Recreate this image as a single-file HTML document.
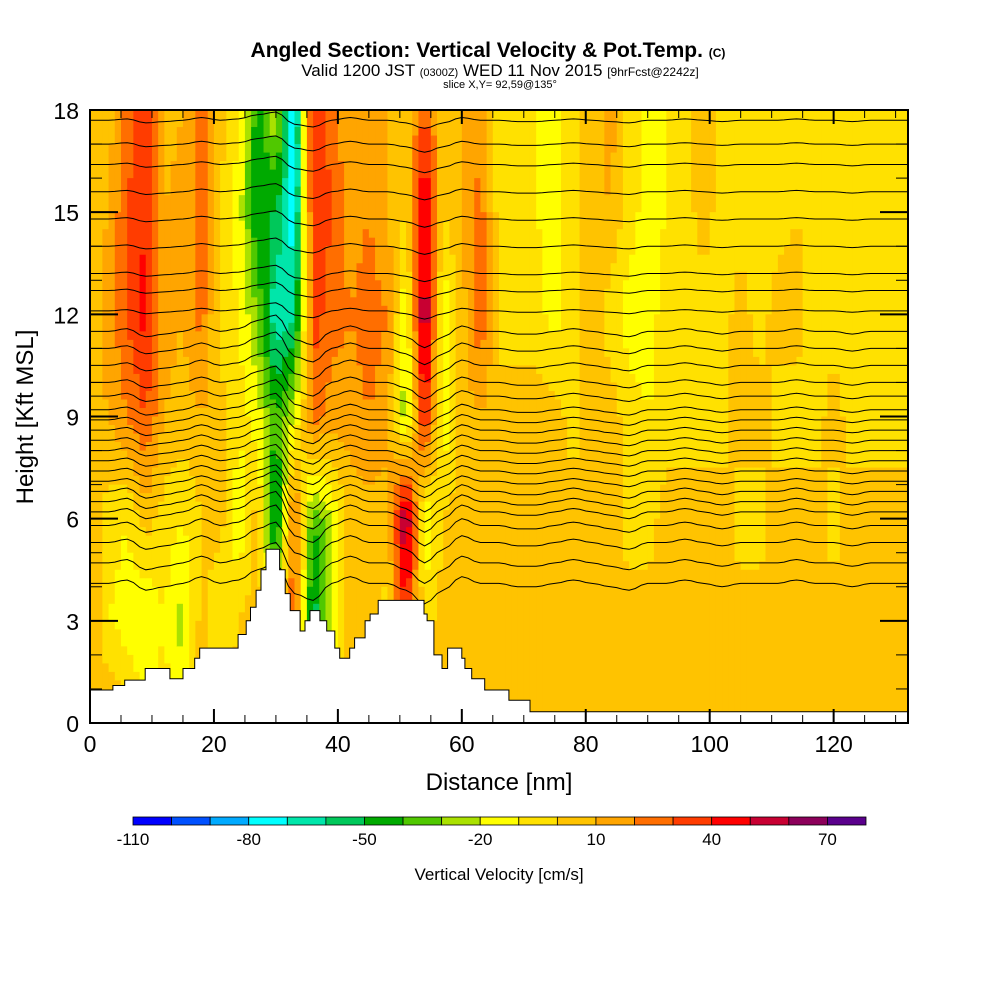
<!DOCTYPE html>
<html><head><meta charset="utf-8">
<style>
html,body{margin:0;padding:0;background:#fff;}
svg text{font-family:"Liberation Sans",sans-serif;}
</style></head>
<body>
<svg id="chart" width="1000" height="1000" viewBox="0 0 1000 1000" xmlns="http://www.w3.org/2000/svg">
<defs><clipPath id="plotclip"><rect x="90" y="110" width="818" height="613"/></clipPath></defs>
<rect width="1000" height="1000" fill="#fff"/>
<g>
<text x="488" y="57" font-size="21" font-weight="bold" text-anchor="middle">Angled Section: Vertical Velocity &amp; Pot.Temp. <tspan font-size="12">(C)</tspan></text>
<text x="500" y="76" font-size="17" text-anchor="middle">Valid 1200 JST <tspan font-size="11">(0300Z)</tspan> WED 11 Nov 2015 <tspan font-size="12">[9hrFcst@2242z]</tspan></text>
<text x="500" y="88" font-size="11" text-anchor="middle">slice X,Y= 92,59@135°</text>
</g>
<g id="field"></g>
<g id="isen" clip-path="url(#plotclip)"></g>
<g id="terrain"></g>
<g id="axes"></g>
<g id="cbar"></g>
</svg>
<script>
const gridX = [0,3,6,9,12,15,18,21,24,27,30,33,36,39,42,45,48,51,54,57,60,63,66,69,72,75,78,81,84,87,90,93,96,99,102,105,108,111,114,117,120,123,126,129,132];
const gridH = [18,15,12,9,6,3,0];
const w18 = [5,5,25,35,5,10,25,5,-10,-45,-20,-80,40,25,10,15,10,5,30,5,10,15,-5,-10,-10,-15,-5,5,15,-5,-15,-10,-5,5,-5,-10,-5,-5,-5,-5,-5,-5,-5,-5,-5];
const w15 = [5,10,30,40,10,15,25,0,-15,-50,-50,-80,40,30,15,20,10,0,55,0,10,25,-5,-10,-10,-15,-5,5,10,-5,-15,-10,-5,5,-5,-5,-5,-5,0,-5,-5,-5,-5,-5,-5];
const w12 = [5,15,30,45,15,10,25,-5,-10,-30,-70,-60,35,25,20,25,20,-20,65,-20,5,30,-5,-5,-5,-15,-5,5,-5,-15,-15,-5,-5,-5,-5,5,-5,5,5,-5,-5,-5,-5,-5,-5];
const w9 = [5,10,20,30,10,5,10,5,-5,-15,-40,-20,25,15,15,20,15,-30,45,-20,5,10,5,5,5,5,-5,5,5,-5,-10,-5,-5,-5,-5,5,5,-5,-5,-5,5,-5,-5,-5,-5];
const w6 = [5,-5,-10,5,-5,-10,0,5,-20,5,-60,30,-40,-20,5,5,5,65,-20,0,5,5,5,5,5,5,5,5,5,-5,-5,5,5,5,5,-5,-5,5,5,5,-5,5,5,5,5];
const w3 = [10,-10,-15,-20,-10,-25,5,-10,0,5,-10,30,-60,-20,5,10,-5,40,-5,5,10,5,5,5,5,5,5,5,5,5,5,5,5,5,5,5,5,5,5,5,5,5,5,5,5];
const w0 = [10,10,5,-10,-5,-15,5,5,5,5,5,10,-20,-5,5,5,5,10,5,5,5,5,5,5,5,5,5,5,5,5,5,5,5,5,5,5,5,5,5,5,5,5,5,5,5];
const levels = [-110,-100,-90,-80,-70,-60,-50,-40,-30,-20,-10,0,10,20,30,40,50,60,70,80];
const colors = ["#0000ff","#0050ff","#00aaff","#00ffff","#00e6aa","#00c85a","#00aa00","#50c800","#aae100","#ffff00","#ffe100","#ffc300","#ffa500","#ff6e00","#ff3c00","#ff0000","#c80032","#8c005a","#5a008c"];
const cbarLabels = [-110,-80,-50,-20,10,40,70];
const terrX = [0,3.7,5.6,8.9,12.9,15,16.9,17.7,23.9,25.2,25.9,26.8,27.6,28.4,30.6,31.5,32.3,33.9,34.7,35.5,37.1,38.2,39.5,40.3,41.9,42.7,44.4,45.2,46.5,53.9,54.4,55.5,56.8,57.7,60,60.5,61.6,63.7,67.6,71,132];
const terrH = [0.97,1.1,1.26,1.6,1.3,1.6,1.9,2.2,2.6,3.0,3.4,3.9,4.5,5.1,4.5,3.8,3.3,2.7,3.0,3.3,3.0,2.7,2.2,1.9,2.2,2.5,3.0,3.2,3.6,3.2,3.0,2.0,1.6,2.2,1.9,1.6,1.3,0.97,0.67,0.33,0.33];
const isenBase = [17.7,17.0,16.4,15.6,14.8,14.0,13.2,12.7,12.1,11.5,11.0,10.5,10.0,9.6,9.2,8.9,8.6,8.3,8.0,7.7,7.4,7.1,6.8,6.5,6.2,5.8,5.3,4.7,4.1];
const isenDisp = [0,0,0.1,-0.2,-0.1,0,0.2,0,0.1,0.4,0.6,-0.3,-0.5,0,0.2,0,0,-0.2,-0.6,-0.2,0.2,0,0,-0.1,-0.1,0,0.1,0,-0.1,-0.2,0,0,0.1,0,-0.1,0,0,0,0.1,0,0,-0.1,0,0,0];
const xTicks = [0,20,40,60,80,100,120];
const yTicks = [0,3,6,9,12,15,18];

const NS="http://www.w3.org/2000/svg";
const X0=90,X1=908,Y0=723,Y1=110;
const xs = v => X0+(v/132)*(X1-X0);
const ys = h => Y0-(h/18)*(Y0-Y1);
function mk(tag, attrs, parent){const e=document.createElementNS(NS,tag);for(const k in attrs)e.setAttribute(k,attrs[k]);parent.appendChild(e);return e;}
const rows=[w18,w15,w12,w9,w6,w3,w0];
function val(nm,h){
  let i=Math.min(Math.floor(nm/3),gridX.length-2); let fx=(nm-gridX[i])/3;
  let r=(18-h)/3; let j=Math.min(Math.floor(r),gridH.length-2); let fy=r-j;
  const a=rows[j][i]*(1-fx)+rows[j][i+1]*fx, b=rows[j+1][i]*(1-fx)+rows[j+1][i+1]*fx;
  return a*(1-fy)+b*fy;
}
function colorOf(v){let k=0;for(let i=0;i<levels.length-1;i++){if(v>=levels[i])k=i;}return colors[k];}
const field=document.getElementById('field');
const dnm=1, dh=0.25;
for(let nm=0;nm<132;nm+=dnm){
  let start=18, cur=null;
  for(let h=18;h>-0.001;h-=dh){
    const c = h>0.001 ? colorOf(val(nm+dnm/2,h-dh/2)) : null;
    if(c!==cur){
      if(cur!==null){
        const r=mk('rect',{x:xs(nm),y:ys(start),width:xs(nm+dnm)-xs(nm)+0.6,height:ys(h)-ys(start)+0.6,fill:cur},field);
        
        
      }
      cur=c; start=h;
    }
  }
}
function disp(nm){let i=Math.min(Math.floor(nm/3),gridX.length-2);let f=(nm-gridX[i])/3;f=(1-Math.cos(Math.PI*f))/2;return isenDisp[i]*(1-f)+isenDisp[i+1]*f;}
const isen=document.getElementById('isen');
isenBase.forEach((b,k)=>{
  let d='';
  const amp = b<7 ? 1.0 : (b<12?0.8:0.4);
  for(let nm=0;nm<=132;nm+=1){const h=b+disp(nm)*amp;d+=(nm?'L':'M')+xs(nm).toFixed(1)+','+ys(h).toFixed(1);}
  const p=mk('path',{d:d,fill:'none',stroke:'#000','stroke-width':1},isen);
  
  
});
const terr=document.getElementById('terrain');
let td='M'+xs(0)+','+ys(0);
for(let i=0;i<terrX.length-1;i++){td+='L'+xs(terrX[i]).toFixed(1)+','+ys(terrH[i]).toFixed(1)+'L'+xs(terrX[i+1]).toFixed(1)+','+ys(terrH[i]).toFixed(1);}
td+='L'+xs(132)+','+ys(0)+'Z';
const tp=mk('path',{d:td,fill:'#fff',stroke:'#000','stroke-width':1},terr);


const ax=document.getElementById('axes');
mk('rect',{x:X0,y:Y1,width:X1-X0,height:Y0-Y1,fill:'none',stroke:'#000','stroke-width':2},ax);
for(let v=0;v<=132;v+=5){const maj=v%20===0;const L=maj?14:8;
  mk('line',{x1:xs(v),y1:Y0,x2:xs(v),y2:Y0-L,stroke:'#000','stroke-width':maj?2:1},ax);
  mk('line',{x1:xs(v),y1:Y1,x2:xs(v),y2:Y1+L,stroke:'#000','stroke-width':maj?2:1},ax);}
for(let v=0;v<=18;v+=1){const maj=v%3===0;const L=maj?28:12;
  mk('line',{x1:X0,y1:ys(v),x2:X0+L,y2:ys(v),stroke:'#000','stroke-width':maj?2:1},ax);
  mk('line',{x1:X1,y1:ys(v),x2:X1-L,y2:ys(v),stroke:'#000','stroke-width':maj?2:1},ax);}
xTicks.forEach(v=>{const t=mk('text',{x:xs(v),y:752,'font-size':23,'text-anchor':'middle'},ax);t.textContent=v;
  });
yTicks.forEach(v=>{const t=mk('text',{x:79,y:ys(v)+9,'font-size':23,'text-anchor':'end'},ax);t.textContent=v;
  });
const xt=mk('text',{x:499,y:790,'font-size':24,'text-anchor':'middle'},ax);xt.textContent='Distance [nm]';

const yt=mk('text',{x:0,y:0,'font-size':24,'text-anchor':'middle',transform:'translate(33,417) rotate(-90)'},ax);yt.textContent='Height [Kft MSL]';

const cb=document.getElementById('cbar');
const CB0=133,CB1=866;const cx=v=>CB0+(v-levels[0])/(levels[levels.length-1]-levels[0])*(CB1-CB0);
colors.forEach((c,i)=>{const r=mk('rect',{x:cx(levels[i]),y:817,width:cx(levels[i+1])-cx(levels[i]),height:8,fill:c,stroke:'#000','stroke-width':0.8},cb);
  });
cbarLabels.forEach(v=>{const t=mk('text',{x:cx(v),y:845,'font-size':17,'text-anchor':'middle'},cb);t.textContent=v;
  });
const ct=mk('text',{x:499,y:880,'font-size':17,'text-anchor':'middle'},cb);ct.textContent='Vertical Velocity [cm/s]';

</script>
</body></html>
